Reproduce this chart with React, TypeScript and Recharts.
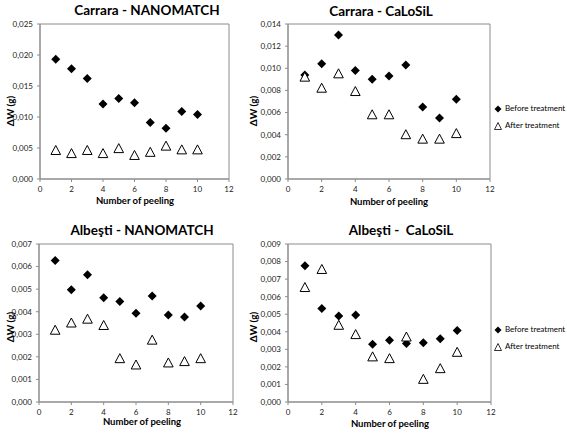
import React from 'react'
import { ScatterChart, Scatter, XAxis, YAxis, ReferenceArea } from 'recharts'

const peeling = [1, 2, 3, 4, 5, 6, 7, 8, 9, 10]
const xTicks = [0, 2, 4, 6, 8, 10, 12]

const carraraNanoBefore = [0.0193, 0.0178, 0.0162, 0.0121, 0.013, 0.0123, 0.0091, 0.0082, 0.0109, 0.0104]
const carraraNanoAfter = [0.0046, 0.0041, 0.0046, 0.0041, 0.0049, 0.0038, 0.0043, 0.0053, 0.0047, 0.0047]
const carraraCaloBefore = [0.0094, 0.0104, 0.013, 0.0098, 0.009, 0.0093, 0.0103, 0.0065, 0.0055, 0.0072]
const carraraCaloAfter = [0.0092, 0.0082, 0.0095, 0.0079, 0.0058, 0.0058, 0.004, 0.0036, 0.0036, 0.0041]
const albestiNanoBefore = [0.00627, 0.00497, 0.00564, 0.00462, 0.00445, 0.00393, 0.0047, 0.00385, 0.00377, 0.00425]
const albestiNanoAfter = [0.00318, 0.0035, 0.00367, 0.00339, 0.00192, 0.00164, 0.00274, 0.00173, 0.00179, 0.00192]
const albestiCaloBefore = [0.00776, 0.00532, 0.0049, 0.00496, 0.00329, 0.00352, 0.00333, 0.00338, 0.0036, 0.00407]
const albestiCaloAfter = [0.00652, 0.00755, 0.00437, 0.00384, 0.00257, 0.00247, 0.0037, 0.00129, 0.0019, 0.00283]

const FONT = 'Lato, "Open Sans", sans-serif'
const AXIS = '#8c8c8c'

function toPoints(vals: number[]) {
  return peeling.map((p, i) => ({ x: p, y: vals[i] }))
}

function fmt(v: number) {
  return v.toFixed(3).replace('.', ',')
}

function Diamond(props: any) {
  const { cx, cy } = props
  const r = 4.5
  return <polygon points={`${cx},${cy - r} ${cx + r},${cy} ${cx},${cy + r} ${cx - r},${cy}`} fill="#000" />
}

function Triangle(props: any) {
  const { cx, cy } = props
  const w = 4.8
  return (
    <polygon
      points={`${cx},${cy - 5} ${cx + w},${cy + 4} ${cx - w},${cy + 4}`}
      fill="#fff"
      stroke="#000"
      strokeWidth={1}
    />
  )
}

type PanelProps = {
  top: number
  plot: { l: number; t: number; r: number; b: number }
  yMax: number
  yStep: number
  before: number[]
  after: number[]
}

function Panel({ top, plot, yMax, yStep, before, after }: PanelProps) {
  const left = plot.l - 40
  const width = plot.r - left + 10
  const height = plot.b - top + 30
  const yTicks: number[] = []
  for (let i = 0; i <= Math.round(yMax / yStep); i++) yTicks.push(+(i * yStep).toFixed(4))
  return (
    <div style={{ position: 'absolute', left, top }}>
      <ScatterChart width={width} height={height} margin={{ top: plot.t - top, right: 10, left: 0, bottom: 0 }}>
        <XAxis
          type="number"
          dataKey="x"
          domain={[0, 12]}
          ticks={xTicks}
          height={30}
          axisLine={{ stroke: AXIS }}
          tickLine={{ stroke: AXIS }}
          tickSize={3}
          tickMargin={4}
          tick={{ fontSize: 8, fill: '#222', fontFamily: FONT }}
        />
        <YAxis
          type="number"
          dataKey="y"
          domain={[0, yMax]}
          ticks={yTicks}
          width={40}
          axisLine={{ stroke: AXIS }}
          tickLine={{ stroke: AXIS }}
          tickSize={3}
          tickMargin={4}
          tickFormatter={fmt}
          tick={{ fontSize: 8, fill: '#222', fontFamily: FONT }}
        />
        <ReferenceArea x1={0} x2={12} y1={0} y2={yMax} fill="none" stroke={AXIS} />
        <Scatter name="Before treatment" data={toPoints(before)} shape={Diamond} isAnimationActive={false} />
        <Scatter name="After treatment" data={toPoints(after)} shape={Triangle} isAnimationActive={false} />
      </ScatterChart>
    </div>
  )
}

function Txt({ x, y, size, bold, rotate, children }: any) {
  return (
    <div
      style={{
        position: 'absolute',
        left: x,
        top: y,
        transform: `translate(-50%, -50%)${rotate ? ' rotate(-90deg)' : ''}`,
        whiteSpace: 'pre',
        fontFamily: FONT,
        fontSize: size,
        fontWeight: bold ? 700 : 400,
        color: '#000',
        lineHeight: 1,
      }}
    >
      {children}
    </div>
  )
}

function LegendBox({ x, y }: { x: number; y: number }) {
  return (
    <div
      style={{
        position: 'absolute',
        left: x,
        top: y,
        fontFamily: FONT,
        fontSize: 8,
        lineHeight: '17px',
        whiteSpace: 'nowrap',
      }}
    >
      <div style={{ display: 'flex', alignItems: 'center' }}>
        <svg width={8} height={8} style={{ marginRight: 3, flex: 'none' }}>
          <polygon points="4,0.5 7.5,4 4,7.5 0.5,4" fill="#000" />
        </svg>
        Before treatment
      </div>
      <div style={{ display: 'flex', alignItems: 'center' }}>
        <svg width={8} height={8} style={{ marginRight: 3, flex: 'none' }}>
          <polygon points="4,0.5 7.5,7.5 0.5,7.5" fill="#fff" stroke="#000" strokeWidth={0.8} />
        </svg>
        After treatment
      </div>
    </div>
  )
}

export default function App() {
  return (
    <div style={{ position: 'absolute', left: 0, top: 0, width: 567, height: 439, background: '#fff', overflow: 'hidden' }}>
      <Panel top={0} plot={{ l: 40, t: 24, r: 229, b: 179 }} yMax={0.025} yStep={0.005} before={carraraNanoBefore} after={carraraNanoAfter} />
      <Panel top={0} plot={{ l: 288, t: 24, r: 490, b: 179 }} yMax={0.014} yStep={0.002} before={carraraCaloBefore} after={carraraCaloAfter} />
      <Panel top={220} plot={{ l: 39, t: 244, r: 233, b: 402 }} yMax={0.007} yStep={0.001} before={albestiNanoBefore} after={albestiNanoAfter} />
      <Panel top={220} plot={{ l: 288, t: 244, r: 491, b: 402 }} yMax={0.009} yStep={0.001} before={albestiCaloBefore} after={albestiCaloAfter} />

      <Txt x={147} y={11} size={13.5} bold>Carrara - NANOMATCH</Txt>
      <Txt x={381} y={12} size={13.5} bold>Carrara - CaLoSiL</Txt>
      <Txt x={142} y={231} size={13.5} bold>Albeşti - NANOMATCH</Txt>
      <Txt x={401} y={231} size={13.5} bold>Albeşti -  CaLoSiL</Txt>

      <Txt x={10} y={111} size={10} bold rotate>ΔW (g)</Txt>
      <Txt x={253} y={111} size={10} bold rotate>ΔW (g)</Txt>
      <Txt x={10} y={327} size={10} bold rotate>ΔW (g)</Txt>
      <Txt x={253} y={327} size={10} bold rotate>ΔW (g)</Txt>

      <Txt x={135} y={201} size={9.5} bold>Number of peeling</Txt>
      <Txt x={389} y={202} size={9.5} bold>Number of peeling</Txt>
      <Txt x={142} y={422} size={9.5} bold>Number of peeling</Txt>
      <Txt x={390} y={424} size={9.5} bold>Number of peeling</Txt>

      <LegendBox x={494} y={100} />
      <LegendBox x={494} y={321} />
    </div>
  )
}
